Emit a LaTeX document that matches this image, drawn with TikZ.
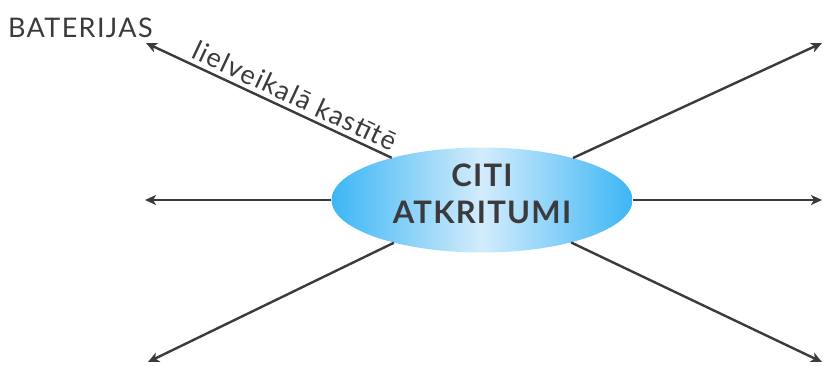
\documentclass[tikz,border=0pt]{standalone}
\usepackage{fontspec}
\setmainfont{Lato}
\usetikzlibrary{arrows.meta,shapes.geometric}
\definecolor{ink}{HTML}{3B3B3E}
\definecolor{edgeblue}{HTML}{3DB6F5}
\definecolor{midblue}{HTML}{D3ECFC}
\tikzset{
  arr/.style={draw=ink, line width=2.4pt, -{Stealth[length=11pt,width=10pt,inset=3pt]}},
  bubble/.style={ellipse, minimum width=301pt, minimum height=105pt, inner sep=0pt,
    left color=edgeblue, right color=edgeblue, middle color=midblue, draw=none},
  lbl/.style={text=ink, font=\fontsize{27}{32}\selectfont\addfontfeatures{LetterSpace=5}}
}
\begin{document}
\begin{tikzpicture}[x=1pt,y=-1pt]
\useasboundingbox (0,0) rectangle (824,365);
\coordinate (tUL) at (146,43);
\coordinate (tL) at (145,200);
\coordinate (tLL) at (148,362);
\coordinate (tUR) at (822,43);
\coordinate (tR) at (822,200);
\coordinate (tLR) at (822,362);
\node[bubble] (c) at (482,200) {};
\draw[arr] (c) -- (tUL);
\draw[arr] (c) -- (tL);
\draw[arr] (c) -- (tLL);
\draw[arr] (c) -- (tUR);
\draw[arr] (c) -- (tR);
\draw[arr] (c) -- (tLR);
\path (tUL) -- (c) node[lbl, pos=0.58, sloped, above=2pt] (lab) {lielveikalā kastītē};
\node[lbl, anchor=base west, inner sep=0pt] (bat) at (8,37) {BATERIJAS};
\node[text=ink, align=center, font=\fontsize{31}{37}\selectfont\bfseries\addfontfeatures{LetterSpace=4}] (ct) at (482,194) {CITI\\ATKRITUMI};
\end{tikzpicture}
\end{document}
